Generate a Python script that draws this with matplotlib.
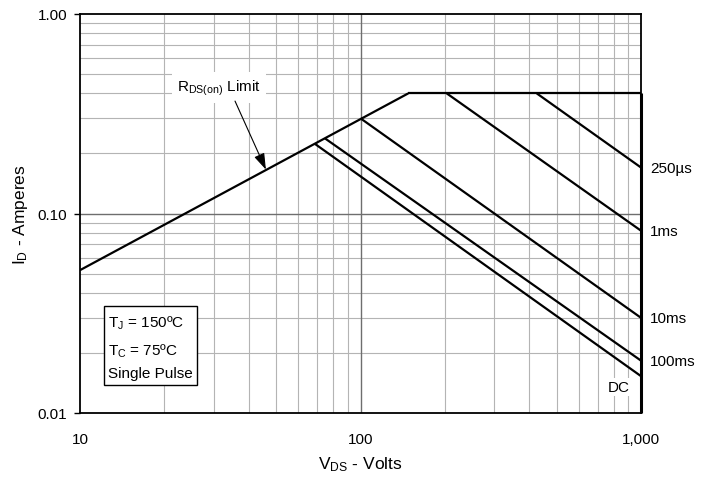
import matplotlib
matplotlib.use("Agg")
import matplotlib.pyplot as plt
from matplotlib.patches import Rectangle
from matplotlib.ticker import FixedLocator, NullFormatter, NullLocator

plt.rcParams['font.family'] = ['Liberation Sans', 'DejaVu Sans']
plt.rcParams['mathtext.fontset'] = 'custom'
plt.rcParams['mathtext.rm'] = 'Liberation Sans'
plt.rcParams['mathtext.it'] = 'Liberation Sans'

# ---- data ----
rds_v = [10, 148]
rds_i = [0.052, 0.40]
limit_v = [148, 1000]
limit_i = [0.40, 0.40]
edge_v = [1000, 1000]
edge_i = [0.40, 0.01]

pulse_labels = ['250µs', '1ms', '10ms', '100ms', 'DC']
pulse_start_v = [425, 203, 100, 74.7, 68.9]
pulse_start_i = [0.40, 0.40, 0.30, 0.238, 0.223]
pulse_end_v = [1000, 1000, 1000, 1000, 1000]
pulse_end_i = [0.170, 0.082, 0.030, 0.0183, 0.0153]

x_ticks = [10, 100, 1000]
x_tick_labels = ['10', '100', '1,000']
y_ticks = [0.01, 0.1, 1.0]
y_tick_labels = ['0.01', '0.10', '1.00']

x_minor = [m * d for d in (10, 100) for m in range(2, 10)]
y_minor = [m * d for d in (0.01, 0.1) for m in range(2, 10)]

fig = plt.figure(figsize=(7.13, 4.81), dpi=100)
ax = fig.add_axes([80 / 713, (481 - 414) / 481, (641 - 80) / 713, (414 - 15) / 481])
ax.set_xscale('log')
ax.set_yscale('log')
ax.set_xlim(10, 1000)
ax.set_ylim(0.01, 1.0)

# grid
for v in x_minor:
    ax.axvline(v, color='#b4b4b4', lw=0.8, zorder=1)
for v in y_minor:
    ax.axhline(v, color='#b4b4b4', lw=0.8, zorder=1)
for v in x_ticks[1:-1]:
    ax.axvline(v, color='#6e6e6e', lw=1.0, zorder=1)
for v in y_ticks[1:-1]:
    ax.axhline(v, color='#6e6e6e', lw=1.0, zorder=1)

lw = 1.6
ax.plot(rds_v, rds_i, color='black', lw=lw, zorder=3, solid_capstyle='butt')
ax.plot(limit_v, limit_i, color='black', lw=lw, zorder=3, solid_capstyle='butt')
ax.plot(edge_v, edge_i, color='black', lw=2.2, zorder=3, solid_capstyle='butt', clip_on=False)
for sv, si, ev, ei in zip(pulse_start_v, pulse_start_i, pulse_end_v, pulse_end_i):
    ax.plot([sv, ev], [si, ei], color='black', lw=lw, zorder=3, solid_capstyle='butt')

# right labels
for lab, ei in zip(pulse_labels[:-1], pulse_end_i[:-1]):
    ax.annotate(lab, xy=(1000, ei), xytext=(6.5, 0), textcoords='offset points',
                ha='left', va='center', fontsize=11, annotation_clip=False)
ax.text(835, 0.0135, pulse_labels[-1], ha='center', va='center', fontsize=11, zorder=4,
        bbox=dict(facecolor='white', edgecolor='none', pad=1.5))

# RDS(on) limit annotation
ax.text(31.3, 0.428, r'$\mathregular{R_{DS(on)}}$ Limit', ha='center', va='center',
        fontsize=11, zorder=5, bbox=dict(facecolor='white', edgecolor='none', pad=4))
ax.annotate('', xy=(46, 0.166), xytext=(35.7, 0.366),
            arrowprops=dict(arrowstyle='-|>,head_length=0.9,head_width=0.3', color='black',
                            lw=0.8, mutation_scale=11, shrinkA=0, shrinkB=0), zorder=5)

# conditions box
fig.patches.append(Rectangle((104 / 713, (481 - 386) / 481), 93 / 713, 79 / 481,
                             transform=fig.transFigure, facecolor='white',
                             edgecolor='black', lw=1.0, zorder=4))
fig.text(108 / 713, 1 - 323 / 481, r'$\mathregular{T_J}$ = 150ºC', fontsize=11, va='center', ha='left', zorder=5)
fig.text(108 / 713, 1 - 351 / 481, r'$\mathregular{T_C}$ = 75ºC', fontsize=11, va='center', ha='left', zorder=5)
fig.text(108 / 713, 1 - 374 / 481, 'Single Pulse', fontsize=11, va='center', ha='left', zorder=5)

# axes formatting
ax.xaxis.set_major_locator(FixedLocator(x_ticks))
ax.xaxis.set_minor_locator(NullLocator())
ax.xaxis.set_minor_formatter(NullFormatter())
ax.set_xticklabels(x_tick_labels)
ax.yaxis.set_major_locator(FixedLocator(y_ticks))
ax.yaxis.set_minor_locator(NullLocator())
ax.yaxis.set_minor_formatter(NullFormatter())
ax.set_yticklabels(y_tick_labels)
ax.tick_params(axis='x', length=0, pad=14, labelsize=11)
ax.tick_params(axis='y', length=4, width=1, pad=5, labelsize=11, direction='out')

for s in ax.spines.values():
    s.set_color('black')
    s.set_linewidth(1.3)
    s.set_zorder(6)

ax.set_xlabel(r'$\mathregular{V_{DS}}$ - Volts', fontsize=12.5, labelpad=6)
ax.set_ylabel(r'$\mathregular{I_D}$ - Amperes', fontsize=12.5, labelpad=6)

fig.savefig('out.png', dpi=100)
